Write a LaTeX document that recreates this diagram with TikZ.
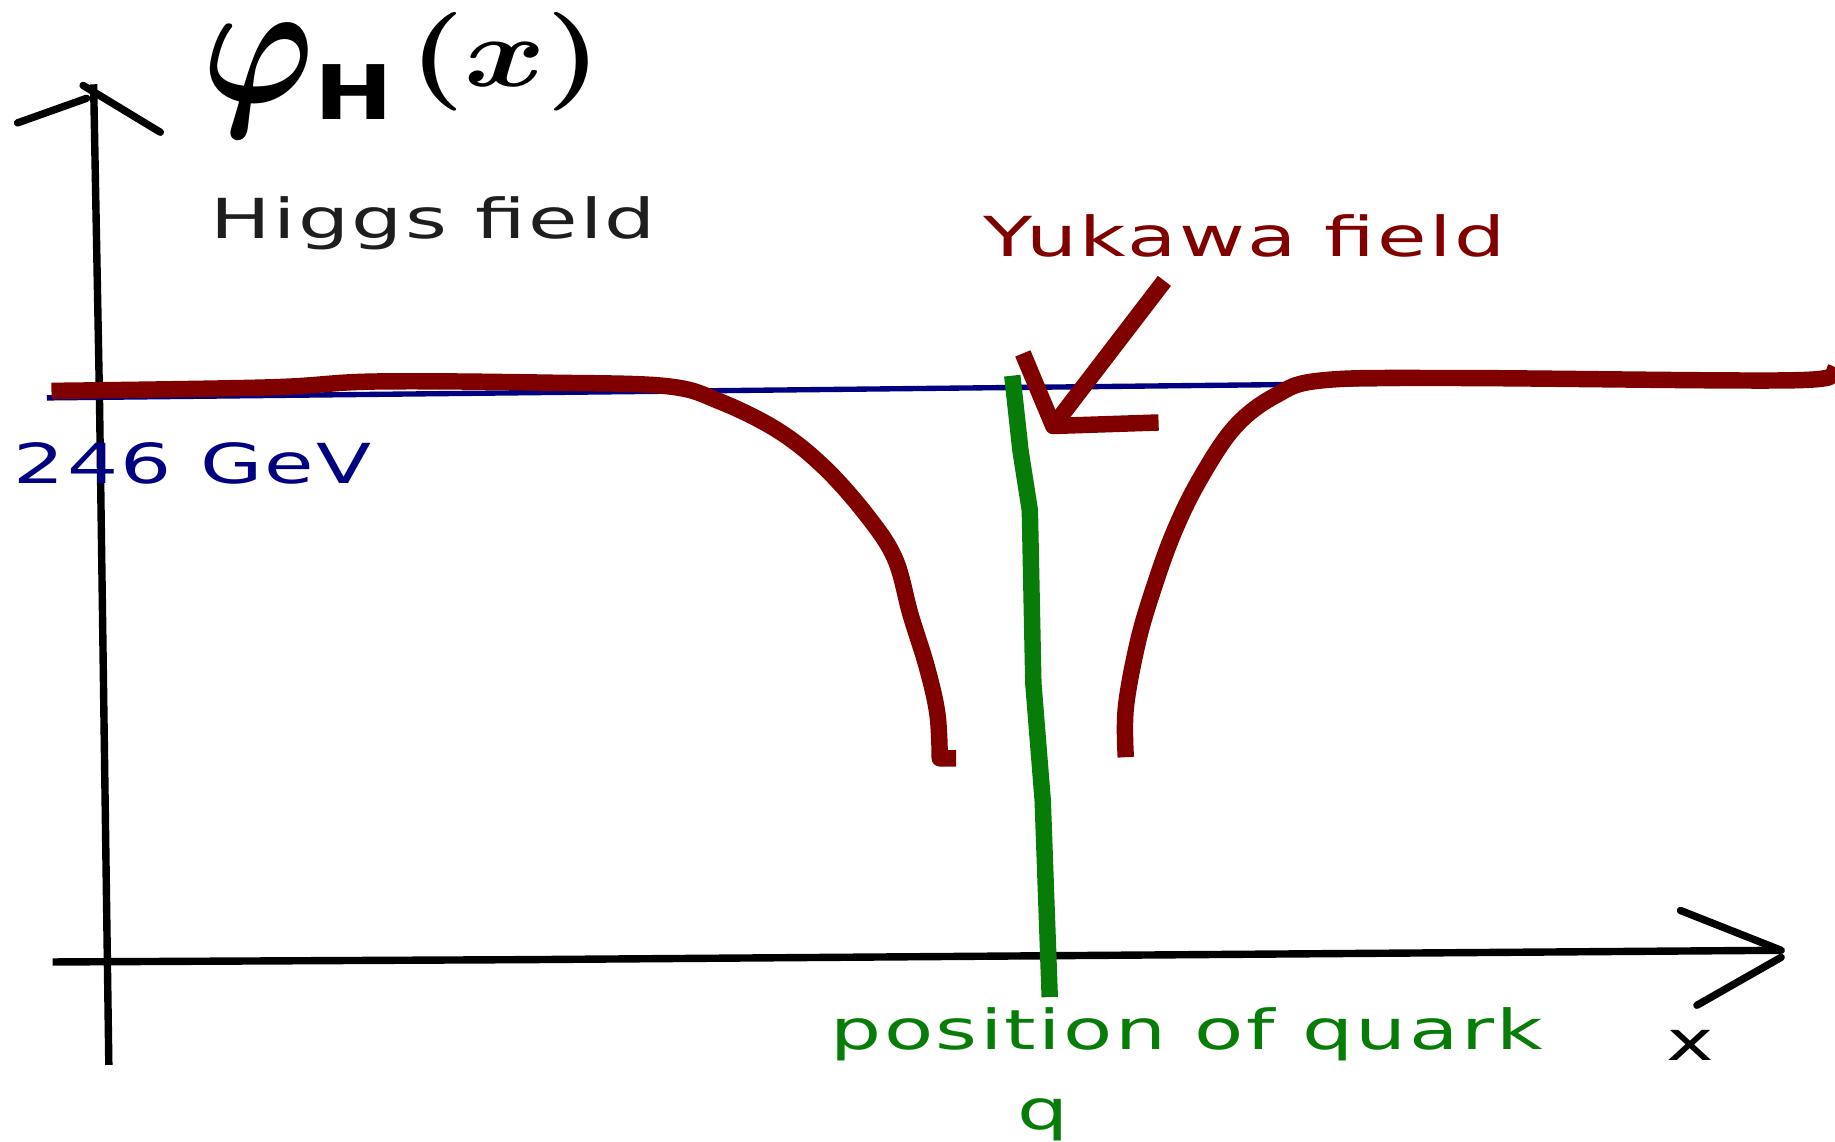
\documentclass[tikz,border=0pt]{standalone}
\usepackage{amsmath}
\usepackage{graphicx}
\usepackage{fontspec}
\newfontfamily\labelfont[LetterSpace=3]{DejaVu Sans}
\newfontfamily\labelboldfont{DejaVu Sans Bold}
\newcommand{\wide}[1]{\scalebox{1.46}[1]{#1}}
\usetikzlibrary{positioning}

\definecolor{yukawared}{RGB}{128,0,0}
\definecolor{vevblue}{RGB}{0,0,128}
\definecolor{quarkgreen}{RGB}{8,124,8}
\definecolor{higgsgray}{RGB}{30,30,30}

\begin{document}
\begin{tikzpicture}[x=0.01cm, y=-0.01cm,
    axis/.style={line width=1.8pt, black},
    barb/.style={line width=1.8pt, black, line cap=round},
    yukawa/.style={line width=4pt, yukawared, line join=round},
    vev/.style={line width=1.3pt, vevblue},
    quark/.style={line width=4pt, quarkgreen},
    label/.style={font=\labelfont\fontsize{13.4}{16}\selectfont, inner sep=0pt}]
    \useasboundingbox (0,0) rectangle (1568,975);

    % Vertical axis phi_H(x)
    \coordinate (ytip) at (80,72);
    \coordinate (ybottom) at (93,910);
    \draw[axis] (ybottom) -- (85,340) -- (ytip);
    \draw[barb] (15,105) -- (74,84);
    \draw[barb] (71,73) -- (137,113);
    \node[anchor=base west, inner sep=0pt, font=\fontsize{10}{12}\selectfont] (fieldsym) at (172,88)
        {\scalebox{3.65}[4.3]{\boldmath$\varphi$}\kern0pt\raisebox{-4pt}{\scalebox{1.25}[1]{\fontsize{18.3}{18.3}\selectfont\labelboldfont H}}\kern4pt\raisebox{4pt}{\scalebox{3}[2.4]{\boldmath$\mathbf{(}x\mathbf{)}$}}};
    \node[label, anchor=base west, text=higgsgray] (higgs) at (179,204) {\wide{Higgs field}};

    % Horizontal axis x
    \coordinate (xleft) at (45,822);
    \coordinate (xtip) at (1522,812);
    \draw[axis] (xleft) -- (450,820) -- (xtip);
    \draw[barb] (1436,778) -- (xtip);
    \draw[barb] (1522,818) -- (1450,859);
    \node[label, anchor=base, text=black] (xlabel) at (1444,906) {\wide{x}};

    % Vacuum value
    \draw[vev] (40,340) -- (1525,324);
    \node[label, anchor=base west, text=vevblue] (vevlabel) at (11,413) {\wide{246 GeV}};

    % Yukawa field around the quark
    \draw[yukawa] plot[smooth, tension=0.6] coordinates {(44,334) (230,331) (320,326) (470,327)
        (570,330) (615,343) (665,368) (705,400) (742,442) (765,478) (778,525) (792,570)
        (801,610) (803,648)} -- (817,648);
    \draw[yukawa] plot[smooth, tension=0.6] coordinates {(962,647) (962,605) (972,550)
        (985,505) (1003,455) (1025,410) (1055,365) (1090,338) (1130,325) (1242,323)
        (1530,325) (1560,318)};
    \node[label, anchor=base west, text=yukawared] (yukawalabel) at (840,219) {\wide{Yukawa field}};
    \coordinate (yuktail) at (995,240);
    \coordinate (yuktip) at (900,364);
    \draw[yukawa] (yuktail) -- (yuktip);
    \draw[yukawa] (874,302) -- (yuktip) -- (990,361);

    % Position of quark
    \draw[quark] (865,321) -- (872,385) -- (880,436) -- (883,584) -- (891,684) -- (897,852);
    \node[label, anchor=base west, text=quarkgreen] (quarklabel) at (709,897) {\wide{position of quark}};
    \node[label, anchor=base, text=quarkgreen] (qlabel) at (891,965) {\wide{q}};
\end{tikzpicture}
\end{document}
